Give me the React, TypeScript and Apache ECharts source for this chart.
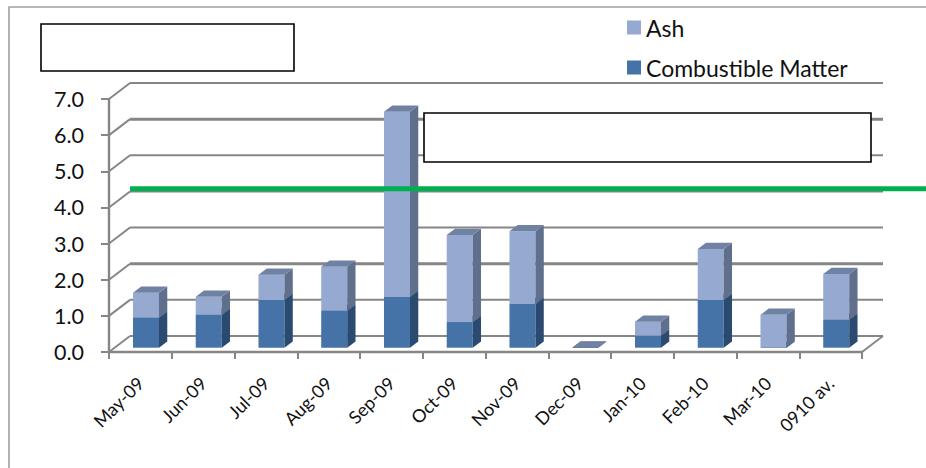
import React, { useEffect, useRef } from "react";
import * as echarts from "echarts";

const months = ["May-09", "Jun-09", "Jul-09", "Aug-09", "Sep-09", "Oct-09", "Nov-09", "Dec-09", "Jan-10", "Feb-10", "Mar-10", "0910 av."];
const combustible = [0.83, 0.91, 1.32, 1.02, 1.4, 0.71, 1.21, 0, 0.33, 1.32, 0, 0.77];
const ash = [0.69, 0.5, 0.7, 1.22, 5.13, 2.41, 2.01, 0, 0.39, 1.41, 0.91, 1.27];
const yTicks = [0, 1, 2, 3, 4, 5, 6, 7];
const referenceLevel = [4.52];
const seriesNames = ["Ash", "Combustible Matter"];

const FONT = "Lato, 'Noto Sans', sans-serif";
const GRAY = "#868686";
const DEPTH_X = 21;
const DEPTH_Y = 16;
const BAR_W = 26;
const BAR_DX = 8.3;
const BAR_DY = 6.3;

const barRender = (front: string, side: string, top: string) => (_p: any, api: any) => {
  const i = api.value(0);
  const a = api.coord([i, api.value(1)]);
  const b = api.coord([i, api.value(2)]);
  const x0 = a[0] - 7.4;
  const x1 = x0 + BAR_W;
  const y0 = a[1] - 4.3;
  const y1 = b[1] - 4.3;
  const poly = (points: number[][], fill: string) => ({
    type: "polygon",
    shape: { points },
    style: { fill, stroke: null },
  });
  return {
    type: "group",
    children: [
      poly([[x0, y0], [x1, y0], [x1, y1], [x0, y1]], front),
      poly([[x1, y0], [x1 + BAR_DX, y0 - BAR_DY], [x1 + BAR_DX, y1 - BAR_DY], [x1, y1]], side),
      poly([[x0, y1], [x1, y1], [x1 + BAR_DX, y1 - BAR_DY], [x0 + BAR_DX, y1 - BAR_DY]], top),
    ],
  };
};

const wallRender = (p: any, api: any) => {
  const v = api.value(1);
  const y = api.coord([0, v])[1];
  const { x, width } = p.coordSys;
  const w = v === 6 || v === 2 ? 3 : v === 7 ? 2.2 : 2;
  const line = (x1: number, y1: number, x2: number, y2: number, lw: number) => ({
    type: "line",
    shape: { x1, y1, x2, y2 },
    style: { stroke: GRAY, lineWidth: lw },
  });
  const kids: any[] = [
    line(x, y, x + DEPTH_X, y - DEPTH_Y, 2),
    line(x + DEPTH_X, y - DEPTH_Y, x + width + DEPTH_X, y - DEPTH_Y, w),
  ];
  if (v === 0) kids.push(line(x + width, y, x + width + DEPTH_X, y - DEPTH_Y, 2));
  return { type: "group", children: kids };
};

const levelRender = (p: any, api: any) => {
  const y = api.coord([0, api.value(1)])[1];
  return {
    type: "line",
    shape: { x1: p.coordSys.x + DEPTH_X, y1: y, x2: 926, y2: y },
    style: { stroke: "#00B050", lineWidth: 5 },
  };
};

export default function App() {
  const ref = useRef<HTMLDivElement>(null);
  useEffect(() => {
    document.body.style.margin = "0";
    const chart = echarts.init(ref.current!, undefined, { renderer: "svg" });
    chart.setOption({
      animation: false,
      backgroundColor: "#fff",
      grid: { left: 109, right: 64, top: 99, bottom: 116 },
      legend: {
        left: 622,
        top: 11,
        orient: "vertical",
        icon: "rect",
        itemWidth: 14,
        itemHeight: 14,
        itemGap: 17,
        selectedMode: false,
        data: seriesNames,
        textStyle: { fontFamily: FONT, fontSize: 23, color: "#111" },
      },
      xAxis: {
        type: "category",
        data: months,
        z: 6,
        axisLine: { show: true, onZero: false, lineStyle: { color: GRAY, width: 2.4 } },
        axisTick: { show: true, length: 7, lineStyle: { color: GRAY, width: 2 }, alignWithLabel: false },
        axisLabel: { rotate: 45, interval: 0, margin: 28, fontFamily: FONT, fontSize: 18, color: "#111" },
      },
      yAxis: {
        type: "value",
        min: 0,
        max: 7,
        interval: 1,
        z: 6,
        axisLine: { show: true, onZero: false, lineStyle: { color: GRAY, width: 2.4 } },
        axisTick: { show: true, length: 8, lineStyle: { color: GRAY, width: 2 } },
        splitLine: { show: false },
        axisLabel: {
          margin: 25,
          fontFamily: FONT,
          fontSize: 21.5,
          color: "#111",
          padding: [7, 0, 0, 0],
          formatter: (v: number) => v.toFixed(1),
        },
      },
      series: [
        {
          type: "custom",
          name: "walls",
          z: 1,
          silent: true,
          clip: false,
          renderItem: wallRender,
          encode: { x: 0, y: 1 },
          data: yTicks.map((v) => [0, v]),
        },
        {
          type: "custom",
          name: seriesNames[1],
          z: 3,
          clip: false,
          itemStyle: { color: "#4572A7" },
          renderItem: barRender("#4572A7", "#2B4A70", "#2B4A70"),
          encode: { x: 0, y: [1, 2] },
          data: months.map((_, i) => [i, 0, combustible[i]]),
        },
        {
          type: "custom",
          name: seriesNames[0],
          z: 4,
          clip: false,
          itemStyle: { color: "#95A9D1" },
          renderItem: barRender("#95A9D1", "#5F6F8C", "#7082A3"),
          encode: { x: 0, y: [1, 2] },
          data: months.map((_, i) => [i, combustible[i], combustible[i] + ash[i]]),
        },
        {
          type: "custom",
          name: "level",
          z: 5,
          silent: true,
          clip: false,
          renderItem: levelRender,
          encode: { x: 0, y: 1 },
          data: referenceLevel.map((v) => [0, v]),
        },
      ],
      graphic: [
        {
          type: "polyline",
          z: 20,
          silent: true,
          shape: { points: [[926, 7], [9, 7], [9, 468]] },
          style: { stroke: "#A0A0A0", lineWidth: 1.6, fill: null },
        },
        {
          type: "rect",
          z: 20,
          silent: true,
          shape: { x: 41, y: 24, width: 253, height: 47 },
          style: { fill: "#fff", stroke: "#000", lineWidth: 1.6 },
        },
        {
          type: "rect",
          z: 20,
          silent: true,
          shape: { x: 424, y: 113, width: 447, height: 49 },
          style: { fill: "#fff", stroke: "#000", lineWidth: 1.6 },
        },
      ],
    });
    return () => chart.dispose();
  }, []);
  return <div ref={ref} style={{ width: 926, height: 468 }} />;
}
